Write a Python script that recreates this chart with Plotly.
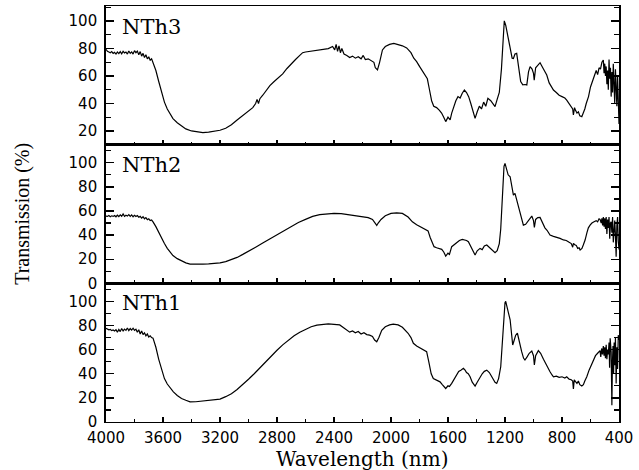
import plotly.graph_objects as go
from plotly.subplots import make_subplots

# ---------------- data (wavelength nm, transmission %) ----------------
nth3_points = [
    (4000, 79.5), (3990, 78), (3980, 77.5), (3970, 77), (3960, 77.8), (3950, 76.5), (3940, 77.2),
    (3930, 76), (3920, 77.5), (3910, 76.3), (3900, 77.8), (3890, 76.2), (3880, 78), (3870, 76.8),
    (3860, 77.5), (3850, 76), (3840, 78.2), (3830, 76.5), (3820, 77.6), (3810, 76), (3800, 78.5),
    (3790, 77), (3780, 78.2), (3770, 75.5), (3760, 77.8), (3750, 74.5), (3740, 76.5), (3730, 73.5),
    (3720, 75.5), (3710, 72.5), (3700, 74), (3690, 71.5), (3680, 72.5), (3670, 70), (3650, 64),
    (3630, 56), (3610, 48), (3590, 41), (3570, 36), (3550, 32), (3530, 29), (3500, 26), (3470, 23.5),
    (3440, 21.5), (3400, 20), (3360, 19.3), (3320, 18.8), (3280, 19.2), (3240, 19.8), (3200, 20.5),
    (3160, 22), (3120, 24.5), (3080, 28), (3040, 31.5), (3000, 34.5), (2970, 37), (2950, 40),
    (2940, 43), (2930, 40), (2920, 43.5), (2900, 46), (2870, 50), (2850, 53), (2820, 56),
    (2790, 58.5), (2760, 61.5), (2730, 65.5), (2700, 69), (2670, 72), (2640, 75), (2620, 77),
    (2600, 77.5), (2560, 78), (2520, 79), (2480, 79.5), (2440, 80), (2410, 81.5), (2395, 79),
    (2385, 83), (2375, 78), (2365, 82), (2355, 77), (2345, 80), (2330, 76), (2310, 75), (2290, 73.5),
    (2270, 74.5), (2250, 73), (2230, 74), (2210, 72.5), (2195, 75), (2180, 72), (2160, 72.5),
    (2140, 71), (2120, 70), (2110, 66), (2095, 64.5), (2080, 70), (2060, 79), (2040, 81.5),
    (2010, 83), (1980, 83.8), (1950, 83), (1920, 82), (1890, 80.5), (1860, 77), (1840, 73),
    (1820, 70.5), (1800, 67), (1780, 64), (1760, 61), (1745, 58), (1730, 50), (1715, 42), (1700, 38),
    (1680, 37), (1660, 35), (1645, 33), (1630, 30), (1616, 26.8), (1600, 30), (1585, 28), (1574, 33),
    (1560, 38), (1545, 42), (1530, 45), (1515, 44), (1500, 47.5), (1485, 49.8), (1470, 48),
    (1455, 45), (1440, 40), (1425, 35), (1410, 29.2), (1395, 34), (1380, 38), (1365, 36), (1350, 41),
    (1335, 38), (1320, 43.8), (1300, 42), (1285, 40), (1270, 37.7), (1255, 43), (1240, 48),
    (1225, 65), (1213, 88), (1205, 100.2), (1195, 97), (1185, 92), (1175, 88), (1160, 80),
    (1150, 73), (1141, 72.8), (1130, 76), (1118, 76.5), (1105, 68), (1090, 56), (1075, 53.5),
    (1060, 53.8), (1047, 53.5), (1035, 63), (1024, 66.8), (1010, 65), (1000, 62), (995, 57),
    (985, 66), (970, 68), (954, 69.7), (935, 66), (920, 63), (907, 60.7), (890, 55), (875, 52),
    (860, 49.8), (840, 48), (820, 46), (800, 45), (780, 44), (767, 42.5), (750, 40), (735, 38),
    (725, 36), (720, 31.6), (712, 37), (705, 35), (695, 33), (685, 34), (675, 31), (661, 30.4),
    (650, 33), (640, 36), (630, 40), (614, 45), (600, 52), (590, 55), (579, 59.5), (570, 62),
    (560, 64), (550, 61), (540, 66), (530, 65), (520, 70), (510, 71.6), (505, 62), (500, 69),
    (495, 60), (490, 67), (485, 54), (480, 64), (475, 50), (470, 72), (465, 58), (460, 66),
    (455, 45), (450, 63), (445, 48), (440, 69), (435, 52), (430, 40), (425, 65), (420, 50),
    (415, 38), (410, 60), (405, 30), (400, 25),
]

nth2_points = [
    (4000, 55.8), (3990, 55.5), (3980, 56.2), (3970, 55.3), (3960, 56), (3950, 55.5), (3940, 56.3),
    (3930, 55.2), (3920, 56.5), (3910, 55.4), (3900, 56.8), (3890, 55.6), (3880, 57.5), (3870, 55.5),
    (3860, 56.5), (3850, 55.8), (3840, 57), (3830, 55.5), (3820, 56.8), (3810, 55.2), (3800, 56.5),
    (3790, 55.5), (3780, 56.2), (3770, 54.8), (3760, 55.5), (3750, 54), (3740, 55.2), (3730, 53.5),
    (3720, 54.5), (3710, 52.8), (3700, 53.5), (3690, 52), (3680, 52.5), (3670, 51), (3650, 47),
    (3630, 42), (3610, 37), (3590, 33), (3570, 29), (3550, 26), (3530, 23), (3500, 20.5),
    (3470, 18.5), (3440, 17), (3410, 16), (3360, 15.8), (3320, 16), (3280, 16.2), (3240, 16.5),
    (3200, 17), (3160, 18), (3120, 19.5), (3080, 21.5), (3040, 24), (3000, 26.5), (2950, 30),
    (2900, 33.5), (2850, 37), (2800, 40.5), (2750, 44), (2700, 47.5), (2650, 50.5), (2600, 53),
    (2550, 55.5), (2500, 57), (2450, 57.8), (2400, 58), (2350, 57.8), (2300, 57), (2250, 56),
    (2200, 55.5), (2160, 54.5), (2130, 53), (2110, 50), (2100, 48), (2090, 50), (2070, 53),
    (2040, 56), (2000, 58), (1960, 58.5), (1920, 58), (1880, 55), (1850, 51), (1820, 48.5),
    (1790, 46.5), (1760, 45), (1740, 43.5), (1725, 38), (1710, 33), (1698, 30.4), (1680, 29.5),
    (1660, 29), (1644, 28.2), (1630, 26), (1616, 22.6), (1600, 25), (1590, 24), (1574, 30.4),
    (1555, 32), (1540, 34), (1520, 35.5), (1500, 36.4), (1485, 36), (1470, 35.5), (1457, 34.5),
    (1440, 30), (1425, 27), (1410, 23.5), (1395, 27), (1375, 29), (1360, 28), (1345, 31),
    (1328, 31.8), (1310, 30), (1290, 27.5), (1270, 25.4), (1255, 27), (1240, 33), (1230, 45),
    (1218, 75), (1207, 97), (1200, 99.5), (1190, 96), (1178, 90), (1164, 88.4), (1150, 80),
    (1141, 73.2), (1130, 74.6), (1120, 70), (1105, 63), (1094, 58), (1080, 51), (1071, 48.3),
    (1055, 49), (1035, 52), (1020, 55), (1012, 55.8), (1000, 52), (994, 46.4), (985, 53),
    (970, 54.5), (954, 54.7), (935, 50), (920, 46), (905, 44), (884, 40), (860, 39), (840, 38.5),
    (814, 37.3), (790, 36), (770, 35.5), (750, 34), (735, 33), (725, 30), (720, 33.2), (710, 32),
    (700, 31.5), (690, 29), (680, 29.5), (673, 27.6), (660, 29), (650, 32), (638, 35.9), (625, 42),
    (615, 46), (603, 48.3), (590, 50), (575, 51), (560, 52), (550, 51), (540, 53.5), (533, 53),
    (525, 50), (520, 54), (515, 48), (510, 55), (505, 47), (500, 54), (495, 45), (490, 55),
    (485, 41), (480, 53), (475, 46), (470, 55), (465, 37), (460, 50), (455, 51), (450, 42),
    (445, 55), (440, 34), (435, 48), (430, 52), (425, 40), (420, 22), (415, 48), (410, 55),
    (405, 35), (400, 28),
]

nth1_points = [
    (4000, 77.8), (3990, 77), (3980, 76.5), (3970, 76.8), (3960, 75.8), (3950, 76.3), (3940, 75.5),
    (3930, 76.5), (3920, 74.5), (3910, 76.8), (3900, 75), (3890, 77.5), (3880, 75.5), (3870, 77),
    (3860, 76), (3850, 78), (3840, 75.8), (3830, 77.5), (3820, 76.2), (3810, 77.8), (3800, 76),
    (3790, 77), (3780, 74.5), (3770, 76.5), (3760, 73), (3750, 75.5), (3740, 72.5), (3730, 74),
    (3720, 71.5), (3710, 73), (3700, 70.5), (3690, 71.5), (3680, 70), (3670, 69.5), (3650, 62),
    (3630, 52), (3610, 43), (3590, 36), (3570, 31.5), (3550, 28), (3527, 25), (3500, 22),
    (3470, 19.5), (3440, 18), (3410, 16.7), (3370, 16.8), (3330, 17.2), (3290, 17.8), (3250, 18.3),
    (3200, 19), (3160, 21), (3120, 23.5), (3080, 27), (3040, 31), (3000, 35.5), (2960, 40),
    (2920, 45), (2880, 50), (2840, 55), (2800, 59.5), (2760, 64), (2720, 68), (2680, 71.5),
    (2640, 74.5), (2600, 77), (2560, 79), (2520, 80.3), (2480, 81), (2440, 81.3), (2400, 81),
    (2360, 80.5), (2330, 78), (2310, 76), (2290, 74.5), (2270, 75.5), (2250, 74), (2230, 75),
    (2210, 73), (2190, 74), (2170, 72.5), (2150, 72), (2130, 71), (2115, 68), (2100, 66.5),
    (2085, 70), (2065, 76), (2040, 79), (2010, 80.5), (1984, 81.1), (1950, 80.5), (1920, 78.5),
    (1900, 76), (1880, 73.6), (1860, 70), (1843, 65.3), (1820, 63), (1800, 61.5), (1780, 60.5),
    (1760, 59), (1750, 58.3), (1735, 50), (1718, 40), (1703, 36.1), (1685, 35), (1670, 33.5),
    (1656, 33.3), (1640, 31), (1628, 29), (1616, 27.8), (1600, 30), (1590, 29.5), (1574, 32),
    (1555, 36), (1540, 40), (1525, 42), (1510, 43), (1492, 44.5), (1480, 43), (1470, 41),
    (1458, 40), (1445, 37.5), (1430, 33), (1410, 29.8), (1395, 33), (1375, 37.5), (1360, 40),
    (1345, 42), (1328, 43), (1310, 41), (1290, 37), (1270, 33), (1258, 32), (1245, 36),
    (1230, 45.8), (1220, 65), (1210, 88), (1200, 99), (1195, 100), (1185, 96), (1175, 90),
    (1164, 84.8), (1155, 74), (1146, 63.9), (1135, 68), (1125, 72), (1113, 73.6), (1100, 66),
    (1083, 58.3), (1070, 53), (1060, 51.4), (1045, 54), (1030, 57), (1012, 58.9), (1000, 55),
    (994, 47.3), (985, 55), (966, 59.2), (950, 57), (930, 52), (910, 47), (895, 44), (884, 41.7),
    (870, 39), (860, 37.5), (840, 38), (820, 37), (800, 37.5), (780, 36.5), (767, 37.5), (750, 35.5),
    (735, 35), (725, 34), (720, 27.5), (714, 35), (705, 33.5), (695, 32), (685, 34), (675, 31),
    (661, 29.8), (650, 31), (640, 34), (626, 37.5), (610, 43), (595, 47), (579, 51.4), (565, 55),
    (550, 57), (540, 59), (533, 59.2), (528, 54), (522, 61), (516, 56), (510, 63), (505, 55),
    (500, 62), (495, 53), (490, 64), (485, 52), (480, 60), (475, 56), (470, 66), (466, 45),
    (462, 69.5), (455, 58), (450, 13.9), (446, 50), (442, 63), (438, 40), (434, 66), (430, 47),
    (425, 70), (420, 32), (415, 62), (410, 44), (405, 72), (400, 68),
]

panel_names = ["NTh3", "NTh2", "NTh1"]
x_tick_vals = [4000, 3600, 3200, 2800, 2400, 2000, 1600, 1200, 800, 400]
y_tick_vals_top = [20, 40, 60, 80, 100]
y_tick_vals = [0, 20, 40, 60, 80, 100]

# ---------------- figure ----------------
fig = make_subplots(rows=3, cols=1, shared_xaxes=True, vertical_spacing=0)

series = [nth3_points, nth2_points, nth1_points]
for i, pts in enumerate(series):
    wl = [p[0] for p in pts]
    tr = [p[1] for p in pts]
    fig.add_trace(
        go.Scatter(x=wl, y=tr, mode="lines", line=dict(color="black", width=1.2),
                   showlegend=False, name=panel_names[i], hoverinfo="skip"),
        row=i + 1, col=1,
    )

tick_font = dict(family="DejaVu Sans", size=15, color="black")

for r in range(1, 4):
    fig.update_xaxes(
        row=r, col=1,
        range=[4000, 400], tickvals=x_tick_vals,
        showline=True, linecolor="black", linewidth=1.3, mirror=True,
        ticks="inside", ticklen=5, tickwidth=1.3, tickcolor="black",
        minor=dict(ticks="inside", ticklen=3, tickwidth=1.2, tickcolor="black", dtick=200, tick0=400),
        showgrid=False, zeroline=False,
        tickfont=tick_font, ticklabelstandoff=2,
        showticklabels=(r == 3),
    )

y_ranges = [[10, 111], [0, 115], [0, 115]]
y_ticks = [y_tick_vals_top, y_tick_vals, y_tick_vals]
for r in range(1, 4):
    fig.update_yaxes(
        row=r, col=1,
        range=y_ranges[r - 1], tickvals=y_ticks[r - 1],
        showline=True, linecolor="black", linewidth=1.8, mirror="ticks",
        ticks="inside", ticklen=8, tickwidth=1.3, tickcolor="black",
        minor=dict(ticks="inside", ticklen=5, tickwidth=1.2, tickcolor="black", dtick=10, tick0=0),
        showgrid=False, zeroline=False,
        tickfont=tick_font, ticklabelstandoff=4,
    )

# panel labels
label_y = [0.85, 0.855, 0.86]
for i, name in enumerate(panel_names):
    ax = "" if i == 0 else str(i + 1)
    fig.add_annotation(
        text=name, x=0.027, y=label_y[i], xref=f"x{ax} domain", yref=f"y{ax} domain",
        xanchor="left", yanchor="middle", showarrow=False,
        font=dict(family="DejaVu Serif", size=21, color="black"),
    )

# axis titles
fig.add_annotation(
    text="Wavelength (nm)", x=0.5, y=-0.09, xref="paper", yref="paper",
    xanchor="center", yanchor="middle", showarrow=False,
    font=dict(family="DejaVu Serif", size=20, color="black"),
)
fig.add_annotation(
    text="Transmission (%)", x=-0.164, y=0.5, xref="paper", yref="paper",
    xanchor="center", yanchor="middle", showarrow=False, textangle=-90,
    font=dict(family="Liberation Serif", size=20, color="black"),
)

fig.update_layout(
    width=639, height=470,
    margin=dict(l=106, r=20, t=6, b=48),
    paper_bgcolor="white", plot_bgcolor="white",
    hovermode=False,
)

fig.write_html(
    "out.html",
    config={"displayModeBar": False, "staticPlot": True},
    post_script="document.body.style.margin='0';document.body.style.overflow='hidden';",
)
